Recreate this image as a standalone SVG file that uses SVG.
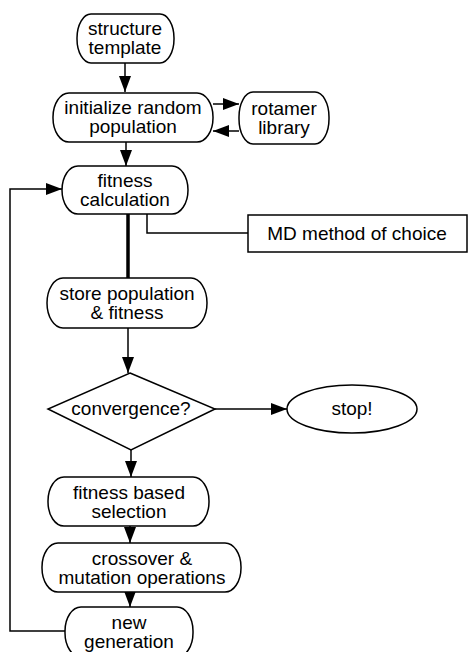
<svg xmlns="http://www.w3.org/2000/svg" width="468" height="652" viewBox="0 0 468 652">
<style>
.n{fill:#fff;stroke:#000;stroke-width:1.5}
.t{font-family:"Liberation Sans",Arial,sans-serif;font-size:19px;text-anchor:middle;fill:#000}
.c{fill:none;stroke:#000;stroke-width:1.5}
</style>
<defs>
<marker id="b" viewBox="0 0 16 12" refX="16" refY="6" markerWidth="16" markerHeight="12" markerUnits="userSpaceOnUse" orient="auto"><path d="M0,0 L16,6 L0,12 z" fill="#000"/></marker>
</defs>
<rect width="468" height="652" fill="#fff"/>
<g id="connectors">
<line class="c" x1="125" y1="63" x2="125" y2="92" marker-end="url(#b)"/>
<line class="c" x1="213" y1="104" x2="239" y2="104" marker-end="url(#b)"/>
<line class="c" x1="239" y1="131" x2="213" y2="131" marker-end="url(#b)"/>
<line class="c" x1="126" y1="142" x2="126" y2="166" marker-end="url(#b)"/>
<polyline class="c" points="65,631 10,631 10,189 62,189" marker-end="url(#b)"/>
<line x1="128" y1="214" x2="128" y2="278" stroke="#000" stroke-width="3.5"/>
<polyline class="c" points="147,214 147,233 248,233"/>
<line class="c" x1="128" y1="328" x2="128" y2="373" marker-end="url(#b)"/>
<line class="c" x1="215" y1="409" x2="287" y2="409" marker-end="url(#b)"/>
<line class="c" x1="131" y1="450" x2="131" y2="477" marker-end="url(#b)"/>
<line class="c" x1="130" y1="526" x2="130" y2="543" marker-end="url(#b)"/>
<line class="c" x1="130" y1="592" x2="130" y2="607" marker-end="url(#b)"/>
</g>
<g id="structure-template"><rect class="n" x="77" y="14" width="97" height="49" rx="14" ry="24"/><text class="t" x="125" y="35">structure</text><text class="t" x="125" y="54">template</text></g>
<g id="initialize"><rect class="n" x="53" y="93" width="160" height="49" rx="16" ry="24"/><text class="t" x="133" y="114">initialize random</text><text class="t" x="133" y="133">population</text></g>
<g id="rotamer"><rect class="n" x="239" y="92" width="90" height="52" rx="14" ry="25"/><text class="t" x="284" y="115">rotamer</text><text class="t" x="284" y="134">library</text></g>
<g id="fitness-calc"><rect class="n" x="62" y="166" width="126" height="48" rx="16" ry="24"/><text class="t" x="125" y="187">fitness</text><text class="t" x="125" y="206">calculation</text></g>
<g id="md"><rect class="n" x="248" y="215" width="219" height="37"/><text class="t" x="357" y="240">MD method of choice</text></g>
<g id="store"><rect class="n" x="47" y="278" width="160" height="50" rx="16" ry="25"/><text class="t" x="127" y="300">store population</text><text class="t" x="127" y="319">&amp; fitness</text></g>
<g id="convergence"><polygon class="n" points="130,373 215,409 131,450 48,409"/><text class="t" x="131" y="415">convergence?</text></g>
<g id="stop"><ellipse class="n" cx="352" cy="409" rx="65" ry="24"/><text class="t" x="352" y="415">stop!</text></g>
<g id="selection"><rect class="n" x="48" y="477" width="161" height="49" rx="16" ry="24"/><text class="t" x="129" y="499">fitness based</text><text class="t" x="129" y="518">selection</text></g>
<g id="crossover"><rect class="n" x="42" y="543" width="199" height="49" rx="16" ry="24"/><text class="t" x="142" y="565">crossover &amp;</text><text class="t" x="142" y="584">mutation operations</text></g>
<g id="new-gen"><rect class="n" x="65" y="607" width="128" height="50" rx="16" ry="24"/><text class="t" x="129" y="629">new</text><text class="t" x="129" y="648">generation</text></g>
</svg>
